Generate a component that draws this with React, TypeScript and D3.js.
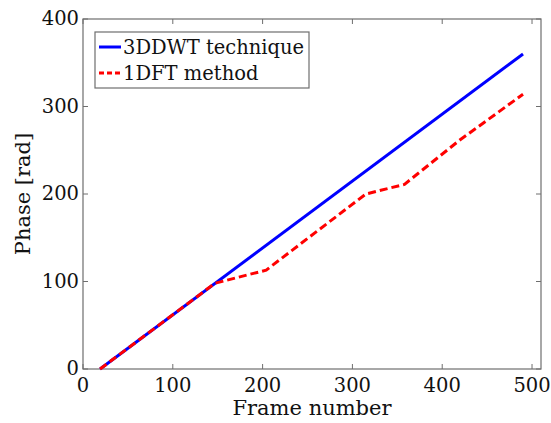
import React from "react";
import * as d3 from "d3";

// Phase unwrapping results per frame
const dwtFrames = [19, 490];
const dwtPhase = [0, 360];
const dftFrames = [19, 147, 204, 260, 315, 358, 420, 490];
const dftPhase = [0, 98, 113, 157, 200, 211, 262, 314];

const xTicks = [0, 100, 200, 300, 400, 500];
const yTicks = [0, 100, 200, 300, 400];
const legendLabels = ["3DDWT technique", "1DFT method"];

const W = 551;
const H = 423;
const M = { left: 83, right: 10, top: 19, bottom: 54 };
const FONT = "'DejaVu Serif', 'Liberation Serif', serif";

export default function App() {
  const x = d3.scaleLinear().domain([0, 510]).range([M.left, W - M.right]);
  const y = d3.scaleLinear().domain([0, 400]).range([H - M.bottom, M.top]);

  const line = d3
    .line<[number, number]>()
    .x((d) => x(d[0]))
    .y((d) => y(d[1]));

  const dwt = dwtFrames.map((f, i) => [f, dwtPhase[i]] as [number, number]);
  const dft = dftFrames.map((f, i) => [f, dftPhase[i]] as [number, number]);

  const x0 = x.range()[0];
  const x1 = x.range()[1];
  const y0 = y.range()[0];
  const y1 = y.range()[1];
  const tickLen = 5;
  const axisColor = "#6e6e6e";

  return (
    <svg
      width={W}
      height={H}
      style={{ position: "absolute", left: 0, top: 0, background: "#fff" }}
    >
      {/* frame */}
      <rect
        x={x0}
        y={y1}
        width={x1 - x0}
        height={y0 - y1}
        fill="none"
        stroke={axisColor}
        strokeWidth={1.2}
      />
      {/* x ticks */}
      {xTicks.map((t) => (
        <g key={"x" + t}>
          <line x1={x(t)} x2={x(t)} y1={y0} y2={y0 - tickLen} stroke={axisColor} />
          <line x1={x(t)} x2={x(t)} y1={y1} y2={y1 + tickLen} stroke={axisColor} />
          <text
            x={x(t)}
            y={y0 + 23}
            textAnchor="middle"
            fontFamily={FONT}
            fontSize={19.5}
            fill="#111"
          >
            {t}
          </text>
        </g>
      ))}
      {/* y ticks */}
      {yTicks.map((t) => (
        <g key={"y" + t}>
          <line x1={x0} x2={x0 + tickLen} y1={y(t)} y2={y(t)} stroke={axisColor} />
          <line x1={x1} x2={x1 - tickLen} y1={y(t)} y2={y(t)} stroke={axisColor} />
          <text
            x={x0 - 4}
            y={y(t) + 6}
            textAnchor="end"
            fontFamily={FONT}
            fontSize={19.5}
            fill="#111"
          >
            {t}
          </text>
        </g>
      ))}

      {/* series */}
      <path d={line(dwt) ?? ""} fill="none" stroke="#0000ff" strokeWidth={3} />
      <path
        d={line(dft) ?? ""}
        fill="none"
        stroke="#ff0000"
        strokeWidth={3}
        strokeDasharray="8,4"
      />

      {/* axis titles */}
      <text
        x={(x0 + x1) / 2}
        y={H - 8}
        textAnchor="middle"
        fontFamily={FONT}
        fontSize={21}
        fill="#111"
      >
        Frame number
      </text>
      <text
        transform={`translate(30, ${(y0 + y1) / 2}) rotate(-90)`}
        textAnchor="middle"
        fontFamily={FONT}
        fontSize={21}
        fill="#111"
      >
        Phase [rad]
      </text>

      {/* legend */}
      <g>
        <rect
          x={95}
          y={32}
          width={214}
          height={56}
          fill="#fff"
          stroke={axisColor}
          strokeWidth={1.2}
        />
        <line x1={99} x2={121} y1={47} y2={47} stroke="#0000ff" strokeWidth={3} />
        <line
          x1={99}
          x2={121}
          y1={73}
          y2={73}
          stroke="#ff0000"
          strokeWidth={3}
          strokeDasharray="5,3"
        />
        <text x={123} y={54} fontFamily={FONT} fontSize={19.5} fill="#111">
          {legendLabels[0]}
        </text>
        <text x={123} y={80} fontFamily={FONT} fontSize={19.5} fill="#111">
          {legendLabels[1]}
        </text>
      </g>
    </svg>
  );
}
